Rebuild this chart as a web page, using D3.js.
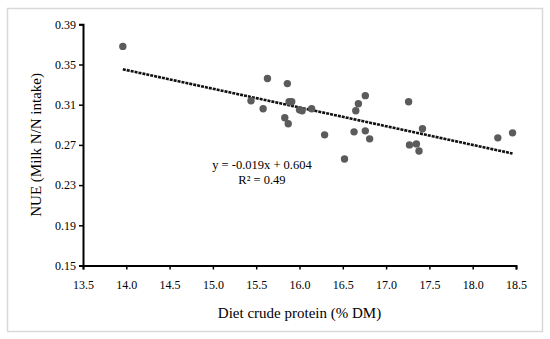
<!DOCTYPE html>
<html>
<head>
<meta charset="utf-8">
<script src="https://cdn.jsdelivr.net/npm/d3@7"></script>
<style>
  body { margin: 0; background: #fff; }
  text { font-family: "Palatino Linotype", "Book Antiqua", Palatino, "Liberation Serif", serif; fill: #000; }
</style>
</head>
<body>
<div id="chart"></div>
<script>
// diet crude protein (% DM) and NUE (milk N / N intake)
var protein = [13.96, 15.63, 15.86, 15.44, 15.58, 15.88, 15.91, 16.00, 16.03, 16.14,
    15.83, 15.87, 16.29, 16.52, 16.63, 16.65, 16.68, 16.76, 16.76, 16.81,
    17.26, 17.27, 17.35, 17.38, 17.42, 18.29, 18.46];
var nue = [0.368, 0.336, 0.331, 0.314, 0.306, 0.313, 0.313, 0.305, 0.304, 0.306,
    0.297, 0.291, 0.280, 0.256, 0.283, 0.304, 0.311, 0.319, 0.284, 0.276,
    0.313, 0.270, 0.271, 0.264, 0.286, 0.277, 0.282];
var xTicks = [13.5, 14.0, 14.5, 15.0, 15.5, 16.0, 16.5, 17.0, 17.5, 18.0, 18.5];
var yTicks = [0.15, 0.19, 0.23, 0.27, 0.31, 0.35, 0.39];
var eqLabel = "y = -0.019x + 0.604";
var r2Label = "R\u00b2 = 0.49";

const W = 550, H = 339;
const padLeft = 83, padRight = 516, padTop = 24.3, padBottom = 265.5;

var svg = d3.select('#chart')
    .append('svg')
    .attr('width', W)
    .attr('height', H)

// light frame round the figure
svg.append('rect')
    .attr('x', 7.5).attr('y', 8.5)
    .attr('width', 535).attr('height', 323)
    .style('fill', 'none').style('stroke', '#d9d9d9').style('stroke-width', 1.5)

var x = d3.scaleLinear().domain([13.5, 18.5]).range([padLeft, padRight]);
var y = d3.scaleLinear().domain([0.15, 0.39]).range([padBottom, padTop]);

var xAxis = svg.append('g')
    .attr('transform', 'translate(0,' + padBottom + ')')
    .call(d3.axisBottom(x).tickValues(xTicks).tickFormat(d3.format('.1f')).tickSizeOuter(0).tickSize(4));
var yAxis = svg.append('g')
    .attr('transform', 'translate(' + padLeft + ',0)')
    .call(d3.axisLeft(y).tickValues(yTicks).tickFormat(d3.format('.2f')).tickSizeOuter(0).tickSize(4));

[xAxis, yAxis].forEach(function(a) {
    a.select('.domain').style('stroke', '#000').style('stroke-width', 2);
    a.selectAll('.tick line').style('stroke', '#000').style('stroke-width', 1.5);
    a.selectAll('.tick text').style('font-size', '12px').attr('font-family', null);
});
xAxis.selectAll('.tick text').attr('dy', '0').attr('y', 23);
yAxis.selectAll('.tick text').attr('x', -7);

// least squares trend line over the data
var mx = d3.mean(protein), my = d3.mean(nue);
var sxy = d3.sum(protein, function(v, i) { return (v - mx) * (nue[i] - my); });
var sxx = d3.sum(protein, function(v) { return (v - mx) * (v - mx); });
var slope = sxy / sxx, icpt = my - slope * mx;
var xr = d3.extent(protein);

svg.append('line')
    .attr('x1', x(xr[0])).attr('y1', y(icpt + slope * xr[0]))
    .attr('x2', x(xr[1])).attr('y2', y(icpt + slope * xr[1]))
    .style('stroke', '#111').style('stroke-width', 2.6).style('stroke-dasharray', '3,1')

svg.selectAll('.pt')
    .data(protein)
    .enter().append('circle')
    .attr('class', 'pt')
    .attr('cx', function(d) { return x(d); })
    .attr('cy', function(d, i) { return y(nue[i]); })
    .attr('r', 3.7)
    .style('fill', '#5b5b5b')

svg.append('text')
    .attr('x', 262).attr('y', 169)
    .attr('text-anchor', 'middle')
    .style('font-size', '12.5px')
    .text(eqLabel)
svg.append('text')
    .attr('x', 262).attr('y', 184)
    .attr('text-anchor', 'middle')
    .style('font-size', '12.5px')
    .text(r2Label)

svg.append('text')
    .attr('x', (padLeft + padRight) / 2).attr('y', 318)
    .attr('text-anchor', 'middle')
    .style('font-size', '15px')
    .text('Diet crude protein (% DM)')
svg.append('text')
    .attr('transform', 'translate(41,' + ((padTop + padBottom) / 2) + ') rotate(-90)')
    .attr('text-anchor', 'middle')
    .style('font-size', '15px')
    .text('NUE (Milk N/N intake)')
</script>
</body>
</html>
